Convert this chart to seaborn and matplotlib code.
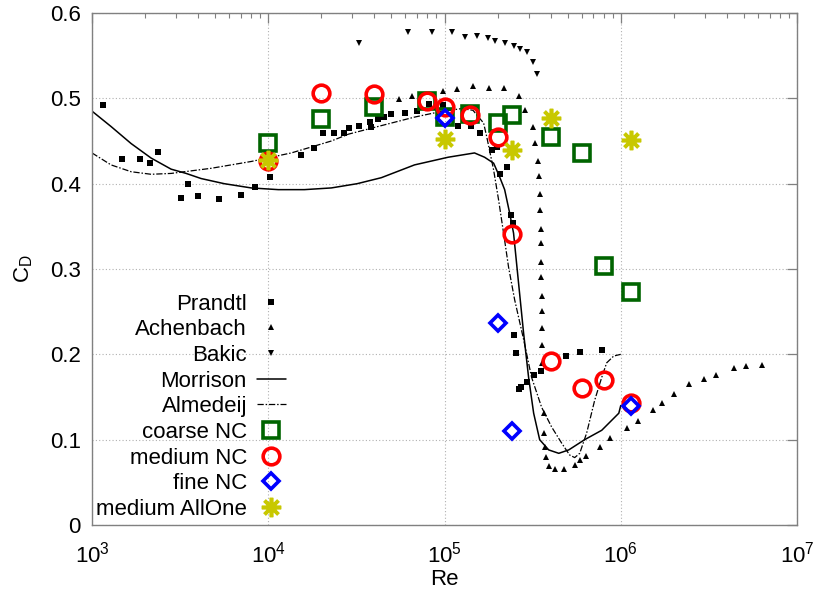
import numpy as np
import pandas as pd
import matplotlib
matplotlib.use("Agg")
import matplotlib.pyplot as plt
import seaborn as sns
from matplotlib.ticker import LogLocator, FixedLocator, FuncFormatter, NullFormatter

# ---------------- data ----------------
prandtl_re = [1155, 1480, 1874, 2137, 2372, 3206, 3510, 4000, 5270, 7030, 8440, 10260,
              15420, 18250, 20550, 23710, 27040, 28860, 32900, 38000, 38500, 42170, 45600,
              50000, 59300, 69400, 82200, 98000, 120000, 140600, 158200, 185000, 197400,
              205400, 225000, 237200, 243400, 246500, 253000, 263000, 270000, 292500,
              320500, 351000, 487000, 585000, 780000]
prandtl_cd = [0.492, 0.429, 0.429, 0.424, 0.437, 0.383, 0.400, 0.386, 0.382, 0.387, 0.396, 0.408,
              0.434, 0.442, 0.459, 0.459, 0.459, 0.465, 0.468, 0.472, 0.466, 0.476, 0.478,
              0.482, 0.483, 0.485, 0.493, 0.492, 0.468, 0.468, 0.459, 0.439, 0.443,
              0.411, 0.420, 0.363, 0.354, 0.223, 0.202, 0.159, 0.162, 0.168,
              0.176, 0.180, 0.198, 0.203, 0.205]

achen_re = [55400, 65000, 98700, 118500, 144300, 177800, 216400, 263000, 285000, 316500,
            324600, 337600, 342000, 346700, 346700, 351000, 351000, 351000, 351000, 355600,
            355600, 355600, 355600, 355600, 365600, 365600, 370000, 375000, 390000, 422000,
            474500, 548000, 585000, 632000, 760000, 866000, 1082000, 1250000, 1521000,
            1710000, 2000000, 2433000, 2963000, 3467000, 4387000, 5130000, 6324000]
achen_cd = [0.499, 0.503, 0.509, 0.511, 0.514, 0.512, 0.512, 0.503, 0.486, 0.466,
            0.448, 0.427, 0.409, 0.388, 0.369, 0.347, 0.330, 0.308, 0.291, 0.268,
            0.251, 0.231, 0.211, 0.190, 0.131, 0.108, 0.091, 0.080, 0.069, 0.066,
            0.066, 0.070, 0.076, 0.081, 0.091, 0.102, 0.114, 0.122, 0.135,
            0.143, 0.154, 0.165, 0.171, 0.176, 0.184, 0.186, 0.187]

bakic_re = [32900, 61700, 84400, 111000, 130000, 152000, 175500, 192300, 219000, 246500,
            266700, 292500, 316300, 333400]
bakic_cd = [0.565, 0.578, 0.578, 0.578, 0.572, 0.573, 0.571, 0.567, 0.565, 0.561,
            0.558, 0.554, 0.543, 0.529]

morrison_re = [1000, 1282, 1667, 2165, 2811, 3422, 4161, 5623, 8003, 11400, 16030, 22800,
               32000, 43800, 67600, 105000, 148000, 168700, 190000, 205400, 219400, 234000,
               246500, 263000, 281000, 300000, 320500, 346700, 390000, 445000, 507000,
               624000, 780000, 975000, 1000000]
morrison_cd = [0.485, 0.467, 0.447, 0.430, 0.417, 0.412, 0.406, 0.400, 0.395, 0.393, 0.393, 0.395,
               0.400, 0.407, 0.422, 0.431, 0.436, 0.431, 0.424, 0.408, 0.393, 0.366,
               0.342, 0.284, 0.225, 0.173, 0.131, 0.100, 0.088, 0.084, 0.088,
               0.100, 0.111, 0.131, 0.140]

almedeij_re = [1000, 1282, 1667, 2165, 2811, 3650, 4740, 6160, 8003, 10400, 13500, 17570,
               22800, 28500, 43800, 67600, 92600, 125000, 145000, 166700, 173600, 190000,
               202700, 216400, 231000, 250000, 281400, 312000, 355600, 405000, 462000,
               513000, 548000, 585000, 641000, 711000, 780000, 832000, 912000, 1000000]
almedeij_cd = [0.436, 0.422, 0.414, 0.411, 0.412, 0.415, 0.418, 0.422, 0.426, 0.431, 0.436, 0.443,
               0.450, 0.458, 0.468, 0.478, 0.484, 0.488, 0.486, 0.471, 0.455, 0.416,
               0.381, 0.342, 0.302, 0.264, 0.217, 0.173, 0.138, 0.115, 0.096,
               0.082, 0.079, 0.084, 0.108, 0.146, 0.173, 0.190, 0.198, 0.200]

coarse_re = [1e4, 2e4, 4e4, 8e4, 1e5, 1.4e5, 2e5, 2.4e5, 4e5, 6e5, 8e5, 1.14e6]
coarse_cd = [0.448, 0.476, 0.490, 0.497, 0.478, 0.482, 0.471, 0.480, 0.455, 0.436, 0.304, 0.273]

medium_re = [1e4, 2e4, 4e4, 8e4, 1e5, 1.4e5, 2e5, 2.4e5, 4e5, 6e5, 8e5, 1.14e6]
medium_cd = [0.427, 0.506, 0.505, 0.497, 0.490, 0.481, 0.455, 0.341, 0.192, 0.160, 0.170, 0.143]

fine_re = [1e5, 2e5, 2.4e5, 1.14e6]
fine_cd = [0.477, 0.237, 0.110, 0.139]

allone_re = [1e4, 1e5, 2.4e5, 4e5, 1.14e6]
allone_cd = [0.428, 0.452, 0.440, 0.477, 0.451]

xtick_vals = [1e3, 1e4, 1e5, 1e6, 1e7]
ytick_vals = [0, 0.1, 0.2, 0.3, 0.4, 0.5, 0.6]

# ---------------- style ----------------
sns.set_theme(style="white")
plt.rcParams["font.family"] = ["Liberation Sans", "DejaVu Sans"]
plt.rcParams["mathtext.fontset"] = "custom"
plt.rcParams["mathtext.rm"] = "Liberation Sans"
plt.rcParams["mathtext.it"] = "Liberation Sans:italic"
plt.rcParams["mathtext.default"] = "regular"
plt.rcParams["text.color"] = "black"
plt.rcParams["axes.labelcolor"] = "black"
plt.rcParams["xtick.labelcolor"] = "black"
plt.rcParams["ytick.labelcolor"] = "black"

FS = 16
fig = plt.figure(figsize=(8.13, 5.95), dpi=100)
ax = fig.add_axes([92 / 813, 1 - 525 / 595, (797 - 92) / 813, (525 - 13) / 595])
ax.set_xscale("log")

def df(x, y):
    return pd.DataFrame({"x": x, "y": y})

common = dict(x="x", y="y", ax=ax, estimator=None, sort=False, legend=False)

sns.lineplot(data=df(prandtl_re, prandtl_cd), **common, color="black", linestyle="",
             marker="s", markersize=4.2, markeredgewidth=0, markeredgecolor="black",
             label="Prandtl")
sns.lineplot(data=df(achen_re, achen_cd), **common, color="black", linestyle="",
             marker="^", markersize=5, markeredgewidth=0, markeredgecolor="black",
             label="Achenbach")
sns.lineplot(data=df(bakic_re, bakic_cd), **common, color="black", linestyle="",
             marker="v", markersize=5, markeredgewidth=0, markeredgecolor="black",
             label="Bakic")
sns.lineplot(data=df(morrison_re, morrison_cd), **common, color="black", linewidth=1.1,
             label="Morrison")
sns.lineplot(data=df(almedeij_re, almedeij_cd), **common, color="black", linewidth=0.9,
             dashes=False, label="Almedeij")
ax.lines[-1].set_dashes((5, 1.5, 1.2, 1.5))
sns.lineplot(data=df(coarse_re, coarse_cd), **common, color="#006400", linestyle="",
             marker="s", markersize=11.5, markeredgewidth=2.6, markeredgecolor="#006400",
             markerfacecolor="none", label="coarse NC")
sns.lineplot(data=df(medium_re, medium_cd), **common, color="#ff0000", linestyle="",
             marker="o", markersize=12, markeredgewidth=2.6, markeredgecolor="#ff0000",
             markerfacecolor="none", label="medium NC")
sns.lineplot(data=df(fine_re, fine_cd), **common, color="#0000ff", linestyle="",
             marker="D", markersize=8.5, markeredgewidth=2.6, markeredgecolor="#0000ff",
             markerfacecolor="none", label="fine NC")
sns.lineplot(data=df(allone_re, allone_cd), **common, color="#c8c800", linestyle="",
             marker=(8, 2, 0), markersize=14, markeredgewidth=2.6, markeredgecolor="#c8c800",
             label="medium AllOne")

ax.set_xlim(1e3, 1e7)
ax.set_ylim(0, 0.6)

ax.xaxis.set_major_locator(FixedLocator(xtick_vals))
ax.xaxis.set_minor_locator(LogLocator(base=10, subs=np.arange(2, 10)))
ax.xaxis.set_minor_formatter(NullFormatter())
ax.xaxis.set_major_formatter(FuncFormatter(lambda v, p: r"$10^{%d}$" % round(np.log10(v))))
ax.yaxis.set_major_locator(FixedLocator(ytick_vals))
ax.yaxis.set_major_formatter(FuncFormatter(lambda v, p: "%g" % v))

spine_col = "#808080"
for s in ax.spines.values():
    s.set_color(spine_col)
    s.set_linewidth(1.0)
ax.tick_params(which="both", direction="in", top=True, right=True, color=spine_col,
               labelsize=FS, labelcolor="black")
ax.tick_params(which="major", length=7, width=0.9)
ax.tick_params(axis="x", which="major", pad=12)
ax.tick_params(axis="y", which="major", pad=8)
ax.tick_params(which="minor", length=3.5, width=0.8)

ax.grid(True, which="major", color="#b0b0b0", linestyle=(0, (1, 2)), linewidth=0.8)
ax.set_axisbelow(True)

ax.set_xlabel("Re", fontsize=FS, labelpad=1, color="black")
ax.set_ylabel("$C_D$", fontsize=FS, labelpad=11, color="black")

leg = ax.legend(loc="lower right", bbox_to_anchor=(0.275, 0.01), frameon=False,
                markerfirst=False, fontsize=FS, handlelength=1.3, handletextpad=0.45,
                labelspacing=0.21, borderaxespad=0, borderpad=0, labelcolor="black")

fig.savefig("out.png", dpi=100)
